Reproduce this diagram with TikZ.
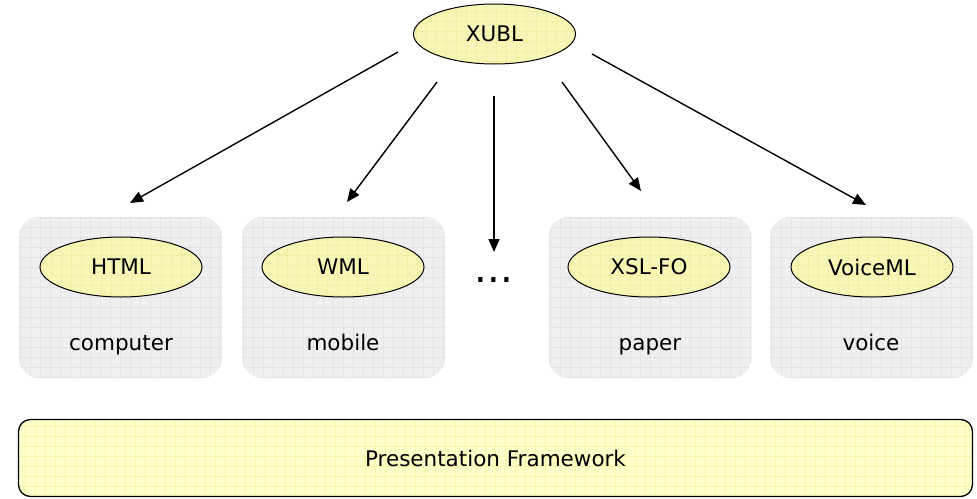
\documentclass[tikz,border=0pt]{standalone}
\usepackage{fontspec}
\setmainfont{DejaVu Sans}
\usetikzlibrary{shapes.geometric,arrows.meta}
\definecolor{boxfill}{HTML}{EFEFEF}
\definecolor{boxgrid}{HTML}{E4E4E4}
\definecolor{ellfill}{HTML}{F8F6B6}
\definecolor{ellgrid}{HTML}{F2EFA2}
\definecolor{pfill}{HTML}{FFFFCA}
\definecolor{pgrid}{HTML}{F9F6A8}
\tikzset{
  gridded/.style={path picture={\draw[#1,line width=0.5pt] ([xshift=-5pt,yshift=-5pt]path picture bounding box.south west) grid[step=10pt] ([xshift=5pt,yshift=5pt]path picture bounding box.north east);}},
  platform/.style={draw=none,fill=boxfill,rounded corners=20pt,minimum width=203pt,minimum height=161pt,inner sep=0pt,gridded=boxgrid},
  lang/.style={ellipse,draw=black,line width=1pt,fill=ellfill,minimum width=162pt,minimum height=60pt,inner sep=0pt,font=\fontsize{21.5}{24}\selectfont,gridded=ellgrid},
  caption/.style={font=\fontsize{21.5}{24}\selectfont,anchor=base},
  conn/.style={line width=1.4pt,-{Triangle[width=11pt,length=13pt]}},
}
\begin{document}
\begin{tikzpicture}[x=1pt,y=-1pt]
\useasboundingbox (0,0) rectangle (977,498);
% platform boxes
\node[platform] (b1) at (120.5,297.5) {};
\node[platform] (b2) at (343.5,297.5) {};
\node[platform] (b3) at (650,297.5) {};
\node[platform] (b4) at (871.5,297.5) {};
% languages
\node[lang] (xubl) at (494.5,34) {XUBL};
\node[lang] (html) at (121,267) {HTML};
\node[lang] (wml) at (343,267) {WML};
\node[lang] (xsl) at (649,267) {XSL-FO};
\node[lang] (voice) at (872,267) {VoiceML};
% captions
\node[caption] (c1) at (121,350) {computer};
\node[caption] (c2) at (343,350) {mobile};
\node[caption] (c3) at (650,350) {paper};
\node[caption] (c4) at (871,350) {voice};
% dots
\node[font=\fontsize{40}{44}\selectfont,anchor=base] (dots) at (494,282) {...};
% framework
\node[draw=black,line width=1.3pt,fill=pfill,rounded corners=12pt,minimum width=954pt,minimum height=77pt,inner sep=0pt,gridded=pgrid,font=\fontsize{21.5}{24}\selectfont] (pf) at (495.5,458) {Presentation Framework};
% arrow anchors
\coordinate (s1) at (398,52);
\coordinate (e1) at (130,203);
\coordinate (s2) at (437,82);
\coordinate (e2) at (347,202);
\coordinate (s3) at (494,96);
\coordinate (e3) at (494,252);
\coordinate (s4) at (562,82);
\coordinate (e4) at (641,191);
\coordinate (s5) at (592,54);
\coordinate (e5) at (866,205);
\draw[conn] (s1) -- (e1);
\draw[conn] (s2) -- (e2);
\draw[conn] (s3) -- (e3);
\draw[conn] (s4) -- (e4);
\draw[conn] (s5) -- (e5);
\end{tikzpicture}
\end{document}
